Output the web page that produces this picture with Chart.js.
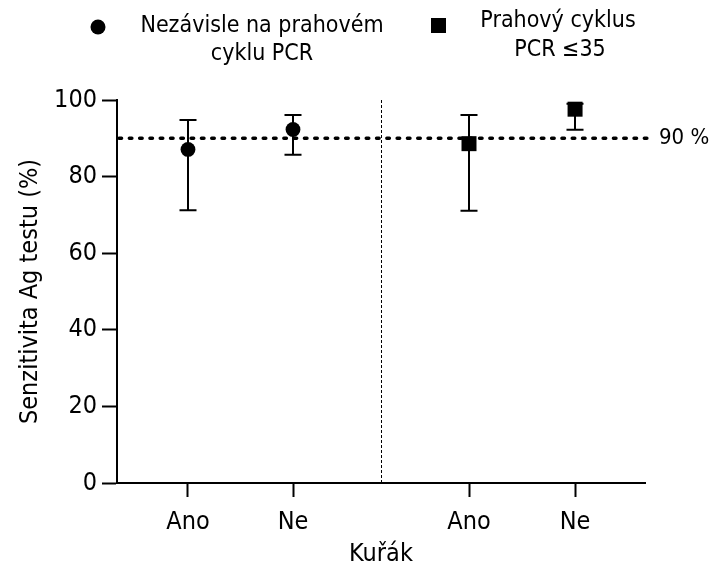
<!DOCTYPE html>
<html><head><meta charset="utf-8">
<script src="https://cdn.jsdelivr.net/npm/chart.js@4/dist/chart.umd.min.js"></script>
<style>html,body{margin:0;padding:0;background:#fff}#wrap{width:712px;height:564px;position:relative}</style>
</head><body><div id="wrap"><canvas id="c"></canvas></div>
<script>
// ---- data ----
const categories = ['Ano', 'Ne', 'Ano', 'Ne'];
const seriesNames = [['Nezávisle na prahovém', 'cyklu PCR'], ['Prahový cyklus', 'PCR ≤35']];
const anyCtValues = [87.1, 92.3];
const anyCtLower = [71.2, 85.7];
const anyCtUpper = [94.8, 96.1];
const ct35Values = [88.6, 97.6];
const ct35Lower = [71.1, 92.2];
const ct35Upper = [96.1, 99.0];
const yTicks = [0, 20, 40, 60, 80, 100];
const threshold = 90;
const thresholdLabel = '90 %';
const xTitle = 'Kuřák';
const yTitle = 'Senzitivita Ag testu (%)';

// ---- layout (not data) ----
const slotPos = [1, 2, 3.676, 4.686];
const dividerPos = 2.838;
const FONT = 'DejaVu Sans Condensed';

const ds1 = anyCtValues.map((v, i) => ({ x: slotPos[i], y: v }));
const ds2 = ct35Values.map((v, i) => ({ x: slotPos[i + 2], y: v }));
const errs = [
  { lower: anyCtLower, upper: anyCtUpper, offset: 0 },
  { lower: ct35Lower, upper: ct35Upper, offset: 2 }
];

const decorPlugin = {
  id: 'decor',
  beforeDatasetsDraw(chart) {
    const { ctx, chartArea, scales: { x, y } } = chart;
    ctx.save();
    // divider
    ctx.strokeStyle = '#000'; ctx.lineWidth = 1; ctx.setLineDash([3, 2]);
    const dx = Math.round(x.getPixelForValue(dividerPos)) + 0.5;
    ctx.beginPath(); ctx.moveTo(dx, chartArea.top); ctx.lineTo(dx, chartArea.bottom); ctx.stroke();
    // threshold
    const ty = y.getPixelForValue(threshold);
    ctx.lineWidth = 3.4; ctx.lineCap = 'round'; ctx.setLineDash([2.6, 7.7]);
    ctx.beginPath(); ctx.moveTo(chartArea.left + 2, ty); ctx.lineTo(chartArea.right + 2, ty); ctx.stroke();
    ctx.setLineDash([]); ctx.lineCap = 'butt';
    // error bars
    ctx.lineWidth = 2;
    errs.forEach(e => {
      e.lower.forEach((lo, i) => {
        const px = Math.round(x.getPixelForValue(slotPos[i + e.offset]));
        const yl = y.getPixelForValue(lo), yu = y.getPixelForValue(e.upper[i]);
        ctx.beginPath();
        ctx.moveTo(px, yl); ctx.lineTo(px, yu);
        ctx.moveTo(px - 8.5, yl); ctx.lineTo(px + 8.5, yl);
        ctx.moveTo(px - 8.5, yu); ctx.lineTo(px + 8.5, yu);
        ctx.stroke();
      });
    });
    ctx.restore();
  },
  afterDraw(chart) {
    const { ctx, chartArea, scales: { y } } = chart;
    ctx.save();
    ctx.fillStyle = '#000';
    ctx.font = '22px "' + FONT + '"';
    ctx.textBaseline = 'middle';
    ctx.textAlign = 'left';
    ctx.fillText(thresholdLabel, chartArea.right + 14, y.getPixelForValue(threshold));
    // legend
    ctx.font = '23px "' + FONT + '"';
    ctx.textAlign = 'center';
    ctx.beginPath(); ctx.arc(98, 27, 7.5, 0, Math.PI * 2); ctx.fill();
    ctx.fillText(seriesNames[0][0], 262, 26);
    ctx.fillText(seriesNames[0][1], 262, 54);
    ctx.fillRect(431, 18, 15, 15);
    ctx.fillText(seriesNames[1][0], 558, 21);
    ctx.fillText(seriesNames[1][1], 560, 50);
    ctx.restore();
  }
};

new Chart(document.getElementById('c'), {
  type: 'scatter',
  data: {
    datasets: [
      { label: seriesNames[0].join(' '), data: ds1, pointStyle: 'circle', pointRadius: 7.4, pointHoverRadius: 7.4,
        backgroundColor: '#000', borderColor: '#000', borderWidth: 0, clip: false },
      { label: seriesNames[1].join(' '), data: ds2, pointStyle: 'rect', pointRadius: 10.6, pointHoverRadius: 10.6,
        backgroundColor: '#000', borderColor: '#000', borderWidth: 0, clip: false }
    ]
  },
  options: {
    responsive: true, maintainAspectRatio: false, animation: false,
    layout: { padding: { left: 0, right: 67, top: 100, bottom: 0 } },
    plugins: { legend: { display: false }, tooltip: { enabled: false } },
    scales: {
      x: {
        type: 'linear', min: 0.324, max: 5.352,
        afterBuildTicks: s => { s.ticks = slotPos.map(v => ({ value: v })); },
        afterFit: s => { s.height = 81; },
        border: { display: true, color: '#000', width: 2 },
        grid: { display: true, drawOnChartArea: false, drawTicks: true, tickLength: 14, tickColor: '#000', tickWidth: 2 },
        ticks: { autoSkip: false, maxRotation: 0, color: '#000', padding: 10, font: { family: FONT, size: 25 },
          callback: (v, i) => categories[i] },
        title: { display: true, text: xTitle, color: '#000', font: { family: FONT, size: 25 }, padding: { top: 0, bottom: -5 } }
      },
      y: {
        min: 0, max: 100,
        afterBuildTicks: s => { s.ticks = yTicks.map(v => ({ value: v })); },
        afterFit: s => { s.width = 117; },
        border: { display: true, color: '#000', width: 2 },
        grid: { display: true, drawOnChartArea: false, drawTicks: true, tickLength: 15, tickColor: '#000', tickWidth: 2 },
        ticks: { color: '#000', padding: 5, font: { family: FONT, size: 25 } },
        title: { display: true, text: yTitle, color: '#000', font: { family: FONT, size: 25 }, padding: { top: 15, bottom: 0 } }
      }
    }
  },
  plugins: [decorPlugin]
});
</script></body></html>
